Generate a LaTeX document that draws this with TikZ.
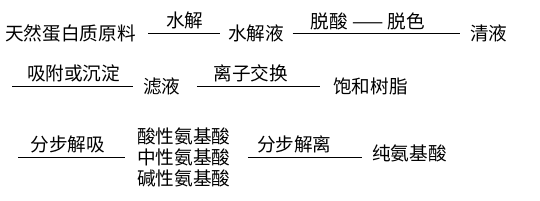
\documentclass[tikz,border=0pt]{standalone}
\usepackage{fontspec}
\newfontfamily\cjk{Noto Sans CJK SC}
\usetikzlibrary{positioning}
\tikzset{
  txt/.style ={font=\cjk\fontsize{10.6pt}{11.9pt}\selectfont,inner sep=0pt,
               anchor=west,align=left},
  lbl/.style ={font=\cjk\fontsize{10.6pt}{11.9pt}\selectfont,inner sep=0pt,
               above=2pt},
  link/.style={draw=black,line width=0.55pt},
}

\begin{document}
\begin{tikzpicture}[x=1cm,y=1cm]
\useasboundingbox (0,0) rectangle (10.8,-4);
% row 1
\node[txt] (raw) at (0.10,-0.66) {天然蛋白质原料};
\node[txt] (hyd) at (4.56,-0.67) {水解液};
\node[txt] (clr) at (9.40,-0.67) {清液};
\draw[link,shorten <=0.24cm,shorten >=0.16cm] (raw.east) -- (raw.east -| hyd.west)
  node[lbl,pos=.53]{水解};
\draw[link,shorten <=0.16cm,shorten >=0.20cm] (hyd.east) -- (hyd.east -| clr.west)
  node[lbl,pos=.45]{脱酸 —— 脱色};
% row 2
\coordinate (s2) at (0.24,-1.73);
\node[txt] (filt) at (2.86,-1.73) {滤液};
\node[txt] (resin) at (6.66,-1.73) {饱和树脂};
\draw[link,shorten >=0.20cm] (s2) -- (s2 -| filt.west)
  node[lbl,pos=.47]{吸附或沉淀};
\draw[link,shorten <=0.32cm,shorten >=0.26cm] (filt.east) -- (filt.east -| resin.west)
  node[lbl,pos=.46]{离子交换};
% row 3
\coordinate (s3) at (0.36,-3.14);
\node[txt] (mix) at (2.74,-3.14) {酸性氨基酸\\中性氨基酸\\碱性氨基酸};
\node[txt] (pure) at (7.44,-3.06) {纯氨基酸};
\draw[link,shorten >=0.24cm] (s3) -- (s3 -| mix.west)
  node[lbl,pos=.42]{分步解吸};
\draw[link,shorten <=0.34cm,shorten >=0.20cm] (mix.east) -- (mix.east -| pure.west)
  node[lbl,pos=.45]{分步解离};
\end{tikzpicture}
\end{document}
